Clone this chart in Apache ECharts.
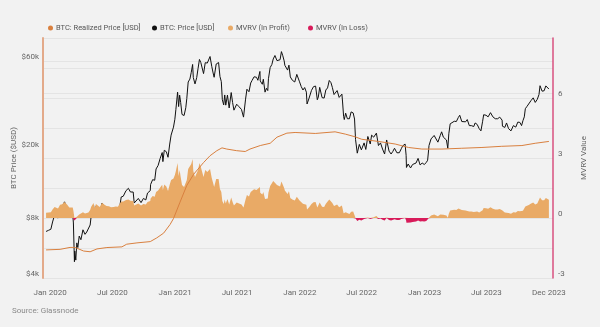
<!DOCTYPE html>
<html>
<head>
<meta charset="utf-8">
<script src="https://cdn.jsdelivr.net/npm/echarts@6/dist/echarts.min.js"></script>
<style>
  html, body { margin: 0; padding: 0; background: #f2f2f2; }
  #chart { width: 600px; height: 327px; }
</style>
</head>
<body>
<div id="chart"></div>
<script>
// Sample dates shared by the BTC price line and the MVRV area
const sampleDates = [
  '2019-12-20','2019-12-27','2020-01-03','2020-01-08','2020-01-14','2020-01-19','2020-01-24','2020-01-30',
  '2020-02-05','2020-02-12','2020-02-16','2020-02-20','2020-02-26','2020-03-02','2020-03-07','2020-03-09',
  '2020-03-12','2020-03-13','2020-03-16','2020-03-19','2020-03-22','2020-03-26','2020-03-31','2020-04-06',
  '2020-04-12','2020-04-17','2020-04-22','2020-04-27','2020-04-30','2020-05-07','2020-05-10','2020-05-14',
  '2020-05-19','2020-05-25','2020-06-01','2020-06-07','2020-06-14','2020-06-21','2020-06-27','2020-07-05',
  '2020-07-11','2020-07-17','2020-07-22','2020-07-27','2020-08-02','2020-08-10','2020-08-17','2020-08-23',
  '2020-08-31','2020-09-03','2020-09-08','2020-09-15','2020-09-23','2020-09-30','2020-10-07','2020-10-12',
  '2020-10-20','2020-10-21','2020-10-27','2020-11-02','2020-11-06','2020-11-12','2020-11-18','2020-11-24',
  '2020-11-26','2020-11-30','2020-12-06','2020-12-11','2020-12-16','2020-12-20','2020-12-24','2020-12-27',
  '2020-12-31','2021-01-03','2021-01-08','2021-01-11','2021-01-14','2021-01-17','2021-01-21','2021-01-27',
  '2021-02-01','2021-02-04','2021-02-08','2021-02-13','2021-02-17','2021-02-21','2021-02-23','2021-02-28',
  '2021-03-05','2021-03-09','2021-03-13','2021-03-17','2021-03-21','2021-03-25','2021-03-30','2021-04-05',
  '2021-04-10','2021-04-13','2021-04-18','2021-04-22','2021-04-25','2021-05-01','2021-05-08','2021-05-12',
  '2021-05-16','2021-05-19','2021-05-23','2021-05-26','2021-05-29','2021-06-03','2021-06-08','2021-06-14',
  '2021-06-18','2021-06-22','2021-06-26','2021-06-30','2021-07-07','2021-07-14','2021-07-20','2021-07-26',
  '2021-07-30','2021-08-05','2021-08-10','2021-08-14','2021-08-20','2021-08-27','2021-08-31','2021-09-06',
  '2021-09-07','2021-09-13','2021-09-16','2021-09-21','2021-09-25','2021-09-29','2021-10-01','2021-10-06',
  '2021-10-11','2021-10-15','2021-10-20','2021-10-26','2021-10-31','2021-11-04','2021-11-08','2021-11-12',
  '2021-11-16','2021-11-18','2021-11-23','2021-11-26','2021-11-30','2021-12-04','2021-12-10','2021-12-13',
  '2021-12-17','2021-12-23','2021-12-27','2021-12-31','2022-01-05','2022-01-10','2022-01-15','2022-01-20',
  '2022-01-22','2022-01-28','2022-02-04','2022-02-10','2022-02-16','2022-02-21','2022-02-24','2022-02-28',
  '2022-03-02','2022-03-07','2022-03-13','2022-03-18','2022-03-23','2022-03-28','2022-04-02','2022-04-06',
  '2022-04-11','2022-04-20','2022-04-26','2022-04-30','2022-05-04','2022-05-06','2022-05-09','2022-05-11',
  '2022-05-15','2022-05-20','2022-05-26','2022-05-31','2022-06-06','2022-06-10','2022-06-13','2022-06-18',
  '2022-06-24','2022-06-30','2022-07-05','2022-07-08','2022-07-13','2022-07-19','2022-07-26','2022-07-30',
  '2022-08-05','2022-08-13','2022-08-19','2022-08-25','2022-08-31','2022-09-06','2022-09-12','2022-09-19',
  '2022-09-25','2022-09-30','2022-10-05','2022-10-12','2022-10-19','2022-10-25','2022-10-29','2022-11-05',
  '2022-11-08','2022-11-09','2022-11-14','2022-11-21','2022-11-27','2022-12-01','2022-12-07','2022-12-13',
  '2022-12-19','2022-12-25','2022-12-31','2023-01-06','2023-01-10','2023-01-13','2023-01-14','2023-01-20',
  '2023-01-25','2023-01-29','2023-02-03','2023-02-09','2023-02-13','2023-02-16','2023-02-20','2023-02-25',
  '2023-03-02','2023-03-06','2023-03-10','2023-03-13','2023-03-17','2023-03-22','2023-03-29','2023-04-04',
  '2023-04-10','2023-04-14','2023-04-20','2023-04-25','2023-05-01','2023-05-06','2023-05-12','2023-05-18',
  '2023-05-25','2023-05-29','2023-06-04','2023-06-10','2023-06-15','2023-06-20','2023-06-23','2023-06-30',
  '2023-07-06','2023-07-13','2023-07-20','2023-07-27','2023-08-03','2023-08-09','2023-08-16','2023-08-17',
  '2023-08-24','2023-08-29','2023-09-04','2023-09-11','2023-09-18','2023-09-25','2023-10-01','2023-10-07',
  '2023-10-12','2023-10-16','2023-10-20','2023-10-23','2023-10-28','2023-11-02','2023-11-09','2023-11-15',
  '2023-11-21','2023-11-27','2023-12-02','2023-12-05','2023-12-08','2023-12-11','2023-12-17','2023-12-22',
  '2023-12-27','2023-12-31'
];

// BTC: Price [USD]
const priceUsd = [
  7150,7250,7350,8050,8800,8700,8450,9500,
  9700,10350,9900,9600,8800,8900,8900,7950,
  4900,5600,5000,6200,5850,6750,6450,7300,
  6900,7100,7100,7750,8650,9950,8600,9800,
  9750,8900,10200,9750,9350,9300,9000,9050,
  9250,9150,9550,11000,11100,11900,12250,11700,
  11700,10200,10100,10800,10250,10800,10600,11550,
  11900,12850,13650,13550,15600,16300,17800,19150,
  17100,19700,19350,18050,21300,23800,23700,26300,
  29000,32800,40700,34000,39200,35800,30800,30400,
  33500,37600,46200,47900,52100,57500,48800,45100,
  48800,54800,61200,58900,57500,51300,58800,58500,
  59800,63500,56200,51700,49000,57800,58900,49500,
  46400,37000,34700,39300,34600,39200,33400,40500,
  35800,32500,32200,35000,33900,32800,29800,37300,
  42200,40900,45600,47100,49300,49000,47200,52700,
  46800,44900,47800,40700,42700,41500,48100,55300,
  57500,61600,64300,60300,61300,61000,67500,64100,
  60100,56900,57200,53600,57000,49200,47200,46700,
  46200,50800,50600,46300,43600,41800,43100,40700,
  35100,37800,41600,43600,43900,37000,38300,43200,
  44000,38000,37800,41800,42900,47100,45800,43200,
  39500,41500,38100,37700,39700,36000,30100,28900,
  31300,29200,29200,31800,31400,29100,22500,19000,
  21200,19800,20200,21600,19900,23400,21300,23800,
  23200,24400,20900,21600,20000,18800,22400,19500,
  18800,19400,20200,19100,19100,20100,20800,21300,
  18500,15900,16600,15800,16500,16900,16800,17800,
  16400,16800,16500,16900,17400,19900,20900,22700,
  23000,23700,23400,21800,21800,23700,24800,23200,
  23500,22400,20200,24200,27400,27300,28300,28200,
  29700,30500,28200,28300,28100,28900,26800,26800,
  26500,27700,27200,25800,25100,28300,30700,30500,
  29900,31500,29900,29200,29200,29800,28700,26600,
  26200,27700,25800,25100,26800,26300,28000,27900,
  26800,28500,29900,33100,34100,34900,36700,37900,
  35800,37200,39500,44100,44200,41200,41400,44000,
  43400,42300
];

// MVRV value relative to the break-even line (positive = in profit, negative = in loss)
const mvrvValue = [
  0.26,0.28,0.29,0.42,0.55,0.53,0.48,0.66,
  0.69,0.80,0.72,0.66,0.52,0.53,0.52,0.36,
  -0.12,-0.03,-0.12,0.06,0.01,0.17,0.13,0.29,
  0.23,0.27,0.27,0.40,0.56,0.75,0.50,0.70,
  0.70,0.55,0.76,0.68,0.60,0.59,0.54,0.55,
  0.58,0.56,0.62,0.82,0.82,0.90,0.93,0.86,
  0.85,0.63,0.62,0.72,0.63,0.70,0.67,0.80,
  0.85,0.98,1.10,1.06,1.30,1.38,1.52,1.66,
  1.40,1.68,1.58,1.35,1.68,1.90,1.82,1.98,
  2.15,2.35,2.75,2.10,2.40,2.05,1.65,1.55,
  1.65,1.90,2.45,2.50,2.70,2.95,2.35,2.05,
  2.10,2.40,2.75,2.55,2.45,2.05,2.40,2.30,
  2.30,2.45,2.00,1.75,1.55,1.95,1.95,1.45,
  1.30,0.85,0.70,0.93,0.72,0.95,0.67,1.03,
  0.80,0.62,0.62,0.78,0.73,0.68,0.53,0.92,
  1.15,1.07,1.30,1.36,1.44,1.40,1.30,1.55,
  1.26,1.17,1.30,0.95,1.04,0.98,1.27,1.60,
  1.68,1.85,1.92,1.65,1.62,1.58,1.82,1.66,
  1.50,1.37,1.36,1.20,1.34,1.00,0.93,0.90,
  0.88,1.06,1.05,0.88,0.78,0.71,0.76,0.66,
  0.43,0.54,0.70,0.79,0.80,0.52,0.58,0.78,
  0.80,0.56,0.55,0.71,0.75,0.92,0.85,0.75,
  0.60,0.67,0.54,0.52,0.62,0.47,0.24,0.19,
  0.29,0.20,0.20,0.31,0.32,0.23,-0.03,-0.15,
  -0.09,-0.12,-0.10,-0.05,-0.11,0.03,-0.05,0.06,
  0.04,0.10,-0.05,-0.02,-0.09,-0.13,0.03,-0.10,
  -0.12,-0.10,-0.06,-0.10,-0.10,-0.05,-0.02,0.01,
  -0.12,-0.24,-0.20,-0.23,-0.20,-0.17,-0.17,-0.12,
  -0.18,-0.16,-0.17,-0.15,-0.13,-0.01,0.05,0.13,
  0.15,0.18,0.17,0.09,0.09,0.18,0.24,0.16,
  0.17,0.12,0.01,0.21,0.37,0.36,0.41,0.40,
  0.47,0.51,0.40,0.40,0.38,0.42,0.32,0.32,
  0.30,0.36,0.33,0.27,0.23,0.39,0.50,0.49,
  0.46,0.54,0.46,0.42,0.42,0.45,0.39,0.29,
  0.27,0.34,0.25,0.21,0.29,0.27,0.35,0.34,
  0.29,0.36,0.43,0.58,0.63,0.65,0.73,0.78,
  0.67,0.73,0.83,1.03,1.03,0.89,0.89,1.00,
  0.97,0.91
];

// BTC: Realized Price [USD]
const realizedDates = [
  '2019-12-20','2020-01-30','2020-02-28','2020-03-14','2020-04-08','2020-04-27','2020-05-17','2020-06-15',
  '2020-07-29','2020-08-12','2020-09-11','2020-10-20','2020-11-08','2020-11-28','2020-12-17','2020-12-27',
  '2021-01-15','2021-02-04','2021-02-24','2021-03-25','2021-04-13','2021-05-03','2021-05-18','2021-06-01',
  '2021-06-30','2021-07-25','2021-08-08','2021-09-07','2021-10-06','2021-10-26','2021-11-24','2021-12-18',
  '2022-02-15','2022-04-14','2022-05-14','2022-06-12','2022-07-01','2022-08-19','2022-10-07','2022-11-15',
  '2022-12-24','2023-02-21','2023-04-20','2023-06-18','2023-08-15','2023-10-13','2023-11-21','2023-12-31'
];
const realizedUsd = [
  5680,5720,5860,5860,5600,5550,5750,5850,
  5900,6100,6200,6300,6600,7000,7800,8400,
  10300,12700,14600,16900,18400,19600,20300,20000,
  19600,19400,20000,20900,21500,23200,24400,24600,
  24300,24800,24100,23300,22600,22000,21300,20400,
  20000,20000,20200,20400,20700,20900,21500,22000
];

// Axis ticks
const xTickDates = ['2020-01-01','2020-07-01','2021-01-01','2021-07-01','2022-01-01','2022-07-01','2023-01-01','2023-07-01','2023-12-31'];
const xTickLabels = ['Jan 2020','Jul 2020','Jan 2021','Jul 2021','Jan 2022','Jul 2022','Jan 2023','Jul 2023','Dec 2023'];
const priceTicks = [4000, 8000, 20000, 60000];
const priceGridLines = [40000, 60000];
const mvrvTicks = [-3, 0, 3, 6];

const toTs = d => Date.parse(d + 'T00:00:00Z');
const xTickTs = xTickDates.map(toTs);

const pricePairs = sampleDates.map((d, i) => [toTs(d), priceUsd[i]]);
const profitPairs = sampleDates.map((d, i) => [toTs(d), Math.max(mvrvValue[i], 0)]);
const lossPairs = sampleDates.map((d, i) => [toTs(d), Math.min(mvrvValue[i], 0)]);
const realizedPairs = realizedDates.map((d, i) => [toTs(d), realizedUsd[i]]);

const FONT = 'Roboto';
const C_REALIZED = '#d9803f';
const C_PRICE = '#111111';
const C_PROFIT = '#e9aa66';
const C_LOSS = '#d81b5a';

const chart = echarts.init(document.getElementById('chart'), null, { renderer: 'canvas' });

// one legend entry per block so each sits at its own spot
const legendItem = (name, left) => ({
  left: left, top: 19,
  icon: 'circle', itemWidth: 5, itemHeight: 5,
  textStyle: { fontFamily: FONT, fontSize: 7.5, color: '#555', padding: [0, 0, 0, -2] },
  data: [name]
});

chart.setOption({
  animation: false,
  backgroundColor: '#f2f2f2',
  textStyle: { fontFamily: FONT },
  title: {
    text: 'Source: Glassnode',
    left: 12, top: 307, padding: 0,
    textStyle: { fontFamily: FONT, fontSize: 8, fontWeight: 'normal', color: '#8a8a8a' }
  },
  legend: [
    legendItem('BTC: Realized Price [USD]', 43),
    legendItem('BTC: Price [USD]', 147),
    legendItem('MVRV (In Profit)', 223),
    legendItem('MVRV (In Loss)', 303)
  ],
  grid: { left: 43, right: 47, top: 38, bottom: 49, containLabel: false, outerBoundsMode: 'none' },
  xAxis: {
    type: 'value',
    min: toTs('2019-12-11'),
    max: toTs('2024-01-12'),
    axisLine: { show: false },
    axisTick: { show: false },
    splitLine: { show: false },
    axisLabel: {
      customValues: xTickTs,
      margin: 11,
      fontFamily: FONT, fontSize: 8, color: '#666',
      hideOverlap: false,
      formatter: v => {
        let best = 0;
        xTickTs.forEach((t, i) => { if (Math.abs(t - v) < Math.abs(xTickTs[best] - v)) best = i; });
        return xTickLabels[best];
      }
    }
  },
  yAxis: [
    {
      type: 'log',
      logBase: 10,
      min: 4000,
      max: 80000,
      name: 'BTC Price ($USD)',
      nameLocation: 'middle',
      nameGap: 25,
      nameMoveOverlap: false,
      nameTextStyle: { fontFamily: FONT, fontSize: 8, color: '#666' },
      axisLine: { show: true, lineStyle: { color: '#e3aa8a', width: 2 } },
      axisTick: { show: false, customValues: priceGridLines },
      splitLine: { show: true, lineStyle: { color: '#e4e4e4', width: 1 } },
      axisLabel: {
        customValues: priceTicks,
        margin: 4,
        verticalAlign: 'bottom',
        fontFamily: FONT, fontSize: 8, color: '#666',
        formatter: v => '$' + Math.round(v / 1000) + 'k'
      }
    },
    {
      type: 'value',
      min: -3,
      max: 9,
      interval: 1.5,
      position: 'right',
      name: 'MVRV Value',
      nameLocation: 'middle',
      nameGap: 27,
      nameRotate: 90,
      nameMoveOverlap: false,
      nameTextStyle: { fontFamily: FONT, fontSize: 8, color: '#666' },
      axisLine: { show: true, lineStyle: { color: '#d8507f', width: 1.5 } },
      axisTick: { show: false },
      splitLine: { show: true, lineStyle: { color: '#e4e4e4', width: 1 } },
      axisLabel: {
        customValues: mvrvTicks,
        margin: 5,
        verticalAlign: 'bottom',
        fontFamily: FONT, fontSize: 8, color: '#666'
      }
    }
  ],
  series: [
    {
      name: 'BTC: Price [USD]',
      type: 'line',
      yAxisIndex: 0,
      data: pricePairs,
      showSymbol: false,
      symbol: 'none',
      itemStyle: { color: C_PRICE },
      lineStyle: { color: C_PRICE, width: 1 },
      z: 2
    },
    {
      name: 'MVRV (In Profit)',
      type: 'line',
      yAxisIndex: 1,
      data: profitPairs,
      symbol: 'none',
      itemStyle: { color: C_PROFIT },
      lineStyle: { width: 0, color: C_PROFIT },
      areaStyle: { color: C_PROFIT, opacity: 1 },
      z: 3
    },
    {
      name: 'MVRV (In Loss)',
      type: 'line',
      yAxisIndex: 1,
      data: lossPairs,
      symbol: 'none',
      itemStyle: { color: C_LOSS },
      lineStyle: { width: 0, color: C_LOSS },
      areaStyle: { color: C_LOSS, opacity: 1 },
      z: 3
    },
    {
      name: 'BTC: Realized Price [USD]',
      type: 'line',
      yAxisIndex: 0,
      data: realizedPairs,
      symbol: 'none',
      itemStyle: { color: C_REALIZED },
      lineStyle: { color: C_REALIZED, width: 1 },
      z: 4
    }
  ]
});
</script>
</body>
</html>
